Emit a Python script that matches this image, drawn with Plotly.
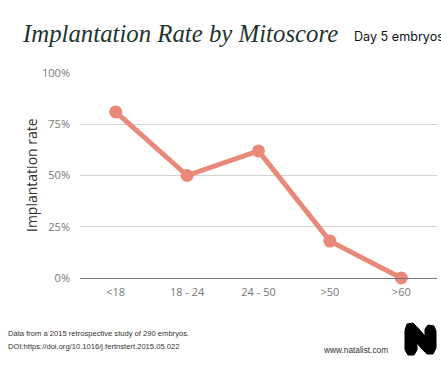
import plotly.graph_objects as go

categories = ["<18", "18 - 24", "24 - 50", ">50", ">60"]
implantation_rate = [0.81, 0.50, 0.62, 0.18, 0.0]
y_ticks = [0, 0.25, 0.5, 0.75, 1.0]
y_tick_labels = ["0%", "25%", "50%", "75%", "100%"]

W, H = 441, 366
L, R, T, B = 80, 4, 73, 88
PW, PH = W - L - R, H - T - B


def px(x):
    return (x - L) / PW


def py(y):
    return (H - B - y) / PH


fig = go.Figure()
fig.add_trace(go.Scatter(
    x=categories, y=implantation_rate, mode="lines+markers",
    line=dict(color="#E8897A", width=5),
    marker=dict(color="#E8897A", size=13),
    cliponaxis=False, hoverinfo="skip", showlegend=False,
))

fig.update_layout(
    width=W, height=H,
    margin=dict(l=L, r=R, t=T, b=B),
    paper_bgcolor="white", plot_bgcolor="white",
    font=dict(family="Open Sans, sans-serif", color="#777777", size=11),
    xaxis=dict(
        type="category", range=[-0.5, 4.5], showgrid=False,
        showline=True, linecolor="#777777", linewidth=1,
        ticks="", tickfont=dict(size=11, color="#777777"),
        ticklabelstandoff=4, zeroline=False, fixedrange=True,
    ),
    yaxis=dict(
        range=[0, 1], tickvals=y_ticks, ticktext=y_tick_labels,
        showgrid=True, gridcolor="#D3D3D3", gridwidth=1,
        zeroline=False, showline=False, ticks="",
        tickfont=dict(size=11, color="#777777"),
        ticklabelstandoff=9, fixedrange=True,
    ),
)

anns = [
    dict(x=px(20), y=py(49), text="<i>Implantation Rate by Mitoscore</i>",
         font=dict(family="Liberation Serif, serif", size=24.8, color="#1F3531"),
         xanchor="left", yanchor="bottom"),
    dict(x=px(352), y=py(46), text="Day 5 embryos",
         font=dict(family="Inter, sans-serif", size=12.6, color="#111111"),
         xanchor="left", yanchor="bottom"),
    dict(x=px(31), y=py(175), text="Implantation rate", textangle=-90,
         font=dict(family="Open Sans, sans-serif", size=14, color="#333333"),
         xanchor="center", yanchor="middle"),
    dict(x=px(6), y=py(333), text="Data from a 2015 retrospective study of 290 embryos.",
         font=dict(family="Liberation Sans, sans-serif", size=7.6, color="#333333"),
         xanchor="left", yanchor="middle"),
    dict(x=px(6), y=py(346), text="DOI:https://doi.org/10.1016/j.fertnstert.2015.05.022",
         font=dict(family="Liberation Sans, sans-serif", size=7.6, color="#333333"),
         xanchor="left", yanchor="middle"),
    dict(x=px(321), y=py(350), text="www.natalist.com",
         font=dict(family="Liberation Sans, sans-serif", size=8.3, color="#333333"),
         xanchor="left", yanchor="middle"),
]
for a in anns:
    a.update(xref="paper", yref="paper", showarrow=False)
fig.update_layout(annotations=anns)

# logo: rounded "N" blob
pts = [(405, 330), (407, 324), (413, 323), (418, 328), (425, 336), (425, 329),
       (428, 325), (434, 326), (436, 331), (436, 348), (433, 354), (427, 354),
       (421, 348), (417, 343), (417, 350), (414, 355), (408, 355), (405, 350)]
path = "M " + " L ".join(f"{px(x)},{py(y)}" for x, y in pts) + " Z"
fig.add_shape(type="path", path=path, xref="paper", yref="paper",
              fillcolor="black", line=dict(color="black", width=1), layer="above")

fig.write_html("out.html", config={"displayModeBar": False},
               post_script="document.body.style.margin='0';document.body.style.overflow='hidden';")
